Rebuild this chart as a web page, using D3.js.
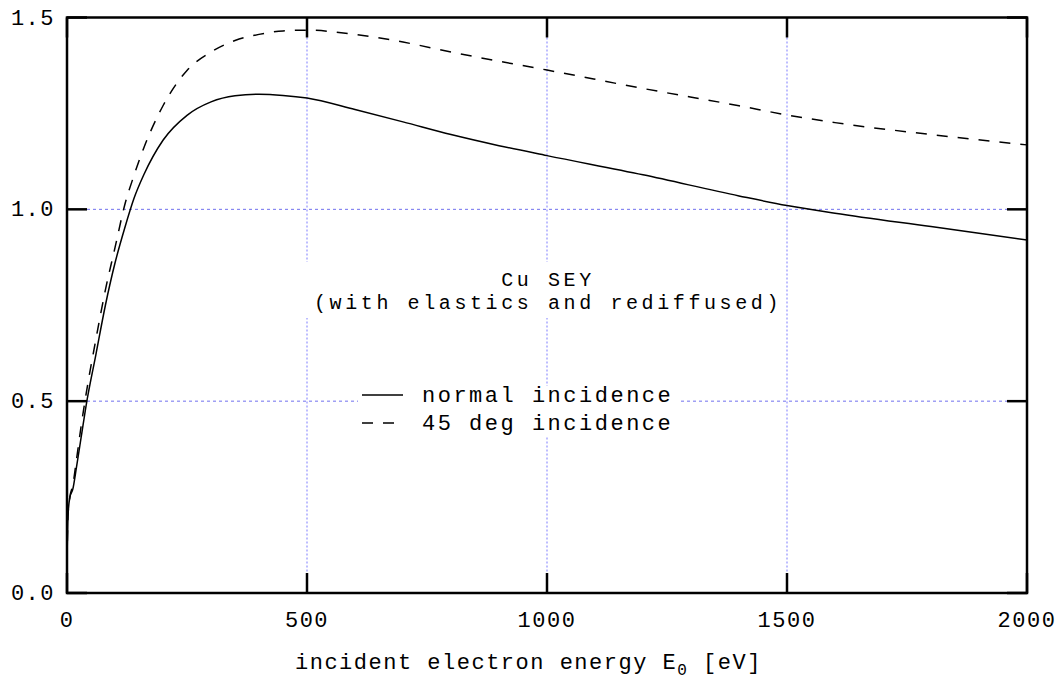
<!DOCTYPE html>
<html><head><meta charset="utf-8">
<script src="https://cdn.jsdelivr.net/npm/d3@7"></script>
<style>body{margin:0;background:#fff}svg{display:block}</style>
</head><body><svg id="c" width="1063" height="686"></svg>
<script>
const energy = [0,2,6,12,20,30,40,60,80,100,120,140,160,200,250,300,350,400,450,500,600,700,800,900,1000,1200,1400,1500,1600,1800,2000];
const seyNormal = [0.08,0.20,0.25,0.27,0.33,0.41,0.49,0.62,0.75,0.86,0.95,1.03,1.09,1.18,1.245,1.28,1.296,1.30,1.297,1.29,1.26,1.228,1.195,1.166,1.14,1.09,1.035,1.01,0.99,0.955,0.92];
const sey45 = [0.08,0.20,0.25,0.28,0.35,0.44,0.52,0.66,0.79,0.90,1.01,1.09,1.16,1.27,1.362,1.41,1.44,1.456,1.465,1.467,1.456,1.436,1.41,1.386,1.363,1.315,1.27,1.246,1.226,1.195,1.168];
const xTicks = [0,500,1000,1500,2000];
const yTicks = [0.0,0.5,1.0,1.5];
const xGrid = [500,1000,1500];
const yGrid = [0.5,1.0];
const labelLines = ["Cu SEY","(with elastics and rediffused)"];
const legendLabels = ["normal incidence","45 deg incidence"];

const L=67,R=1027,T=17.5,B=593,TK=20;
const svg=d3.select("#c");
const x=d3.scaleLinear().domain([0,2000]).range([L,R]);
const y=d3.scaleLinear().domain([0,1.5]).range([B,T]);
const font="'Liberation Mono', monospace";

// grid
svg.selectAll(".hg").data(yGrid).enter().append("line")
 .attr("x1",L+TK).attr("x2",R-TK).attr("y1",d=>y(d)).attr("y2",d=>y(d))
 .attr("stroke","#7070ee").attr("stroke-width",1).attr("stroke-dasharray","3,3");
svg.selectAll(".vg").data(xGrid).enter().append("line")
 .attr("x1",d=>x(d)).attr("x2",d=>x(d)).attr("y1",T+TK).attr("y2",B-TK)
 .attr("stroke","#a8a8ff").attr("stroke-width",1.5).attr("stroke-dasharray","2,2");

// white boxes behind text
svg.append("rect").attr("x",305).attr("y",262).attr("width",480).attr("height",56).attr("fill","#fff");
svg.append("rect").attr("x",358).attr("y",386).attr("width",320).attr("height",50).attr("fill","#fff");

// curves
const line=d3.line().x((d,i)=>x(energy[i])).y(d=>y(d)).curve(d3.curveMonotoneX);
svg.append("path").attr("d",line(seyNormal)).attr("fill","none").attr("stroke","#000").attr("stroke-width",1.5);
svg.append("path").attr("d",line(sey45)).attr("fill","none").attr("stroke","#000").attr("stroke-width",1.5).attr("stroke-dasharray","11,10");

// frame
svg.append("rect").attr("x",L).attr("y",T).attr("width",R-L).attr("height",B-T)
 .attr("fill","none").attr("stroke","#000").attr("stroke-width",2.5);
// ticks
const tk=svg.append("g").attr("stroke","#000").attr("stroke-width",2.5);
xTicks.forEach(v=>{
 tk.append("line").attr("x1",x(v)).attr("x2",x(v)).attr("y1",B).attr("y2",B-TK);
 tk.append("line").attr("x1",x(v)).attr("x2",x(v)).attr("y1",T).attr("y2",T+TK);
});
yTicks.forEach(v=>{
 tk.append("line").attr("x1",L).attr("x2",L+TK).attr("y1",y(v)).attr("y2",y(v));
 tk.append("line").attr("x1",R).attr("x2",R-TK).attr("y1",y(v)).attr("y2",y(v));
});

// tick labels
svg.selectAll(".xl").data(xTicks).enter().append("text")
 .attr("x",d=>x(d)).attr("y",B+34).attr("text-anchor","middle")
 .attr("font-family",font).attr("font-size",22).attr("letter-spacing",1.5)
 .text(d=>d);
svg.selectAll(".yl").data(yTicks).enter().append("text")
 .attr("x",L-12).attr("y",d=>y(d)+7).attr("text-anchor","end")
 .attr("font-family",font).attr("font-size",22).attr("letter-spacing",1.5)
 .text(d=>d3.format(".1f")(d));

// axis title
const xt=svg.append("text").attr("x",295).attr("y",669).attr("font-family",font)
 .attr("font-size",22).attr("letter-spacing",1.5);
xt.append("tspan").text("incident electron energy E");
xt.append("tspan").attr("dy",6).attr("font-size",16).text("0");
xt.append("tspan").attr("dy",-6).text(" [eV]");

// annotation
labelLines.forEach((t,i)=>{
 svg.append("text").attr("x",548).attr("y",286+i*23).attr("text-anchor","middle")
  .attr("font-family",font).attr("font-size",20).attr("letter-spacing",3.6).text(t);
});

// legend
legendLabels.forEach((t,i)=>{
 const yy=395+i*28;
 svg.append("line").attr("x1",362).attr("x2",403).attr("y1",yy).attr("y2",yy)
  .attr("stroke","#000").attr("stroke-width",1.5).attr("stroke-dasharray",i?"11,10":null);
 svg.append("text").attr("x",422).attr("y",yy+7).attr("font-family",font)
  .attr("font-size",22).attr("letter-spacing",2.5).text(t);
});
</script></body></html>
